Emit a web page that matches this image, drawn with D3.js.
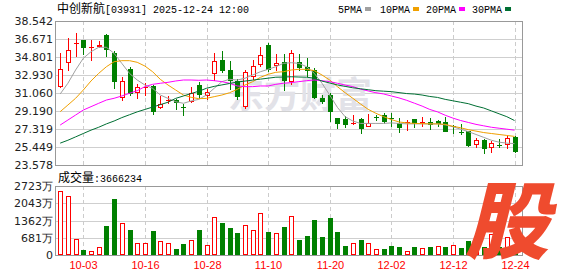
<!DOCTYPE html>
<html>
<head>
<meta charset="utf-8">
<script src="https://cdn.jsdelivr.net/npm/d3@7"></script>
<style>
    body { margin: 0; background: #fff; }
    svg { display: block; }
</style>
</head>
<body>
<div id="chart"></div>
<script>
var dates = ["09-29", "09-30", "10-02", "10-03", "10-06", "10-08", "10-09", "10-10", "10-13", "10-14",
    "10-15", "10-16", "10-17", "10-20", "10-21", "10-22", "10-23", "10-24", "10-27", "10-28",
    "10-30", "10-31", "11-03", "11-04", "11-05", "11-06", "11-07", "11-10", "11-11", "11-12",
    "11-13", "11-14", "11-17", "11-18", "11-19", "11-20", "11-21", "11-24", "11-25", "11-26",
    "11-27", "11-28", "12-01", "12-02", "12-03", "12-04", "12-05", "12-08", "12-09", "12-10",
    "12-11", "12-12", "12-15", "12-16", "12-17", "12-18", "12-19", "12-22", "12-23", "12-24"];

var open = [31.76, 34.25, 36.1, 36.57, 35.78, 35.9, 37.12, 35.2, 30.6, 33.55,
    31.16, 31.6, 31.8, 29.57, 30.3, 30.35, 29.62, 30.2, 31.88, 30.9,
    33.14, 34.45, 33.42, 32.3, 29.75, 32.8, 34.07, 36.08, 33.94, 34.25,
    32.3, 34.25, 33.76, 33.45, 30.55, 30.82, 28.45, 28.4, 27.9, 28.4,
    27.63, 28.56, 28.77, 28.45, 27.97, 27.95, 28.36, 27.93, 28.0, 28.1,
    28.0, 27.65, 27.0, 27.1, 25.73, 26.18, 25.48, 25.7, 25.76, 26.45];
var high = [35.2, 36.8, 37.3, 36.6, 36.6, 36.5, 37.15, 35.4, 32.7, 33.76,
    31.95, 32.1, 31.9, 30.7, 30.75, 30.45, 29.9, 31.65, 32.25, 31.5,
    35.2, 35.4, 34.4, 32.5, 33.45, 34.45, 35.85, 36.25, 35.14, 35.1,
    35.55, 35.1, 34.7, 33.65, 30.9, 31.06, 28.5, 28.7, 28.75, 28.5,
    28.85, 28.75, 28.95, 28.95, 28.45, 28.25, 28.4, 28.55, 28.45, 28.3,
    28.55, 27.7, 27.8, 27.15, 26.42, 26.25, 26.07, 26.3, 26.6, 26.6];
var low = [31.7, 33.4, 34.9, 35.1, 34.5, 35.85, 34.87, 31.6, 30.35, 30.88,
    30.55, 30.9, 28.9, 29.5, 30.05, 29.35, 28.75, 30.15, 30.5, 30.45,
    32.45, 33.2, 31.5, 30.4, 29.45, 32.5, 33.83, 33.3, 33.5, 31.4,
    31.95, 33.48, 32.8, 30.55, 30.0, 28.2, 27.45, 27.55, 27.85, 26.95,
    27.6, 28.25, 27.9, 27.65, 27.05, 27.2, 27.5, 27.63, 27.35, 27.6,
    27.1, 26.9, 26.8, 25.6, 25.48, 24.86, 24.9, 25.4, 25.38, 24.95];
var close = [33.55, 35.5, 36.25, 35.8, 35.85, 36.08, 35.67, 32.35, 32.27, 31.06,
    31.65, 31.7, 29.15, 29.9, 30.35, 30.1, 29.57, 31.05, 31.0, 31.15,
    34.35, 33.48, 32.45, 30.8, 33.2, 33.85, 35.05, 33.58, 34.18, 32.45,
    35.2, 33.73, 33.42, 30.6, 30.2, 29.22, 27.95, 27.82, 27.97, 27.45,
    27.97, 28.52, 28.2, 28.4, 27.5, 28.0, 27.97, 28.0, 27.8, 27.9,
    27.15, 27.6, 26.95, 25.65, 26.18, 25.32, 25.83, 25.65, 26.35, 25.0];

// volume in 万 shares, last one is 3666234
var volume = [2537, 2340, 634, 198, 159, 317, 1150, 2220, 1255, 990,
    476, 476, 950, 542, 460, 238, 436, 580, 990, 396,
    1490, 1270, 1070, 870, 1180, 980, 1650, 900, 860, 1110,
    1530, 590, 750, 1390, 710, 1470, 910, 360, 460, 590,
    460, 220, 240, 360, 320, 145, 320, 260, 320, 340,
    320, 400, 280, 550, 400, 320, 820, 300, 700, 366.6234];
var volUp = [1, 1, 1, 0, 1, 1, 0, 0, 1, 0,
    1, 1, 0, 1, 1, 0, 0, 1, 0, 1,
    1, 0, 0, 0, 1, 1, 1, 0, 1, 0,
    1, 0, 0, 0, 0, 0, 0, 0, 1, 0,
    1, 1, 0, 0, 0, 1, 0, 1, 0, 1,
    0, 1, 0, 0, 1, 0, 1, 0, 1, 0];

var ma5 = [30.96, 32.07, 33.45, 34.67, 35.35, 35.81, 35.81, 35.18, 34.14, 33.1,
    32.41, 31.89, 31.55, 30.85, 30.5, 30.16, 29.99, 30.23, 30.4, 30.85,
    31.55, 32.24, 32.48, 32.41, 32.59, 32.93, 33.27, 33.52, 33.79, 34.14,
    34.21, 34.14, 33.79, 33.1, 32.07, 30.85, 29.57, 28.6, 28.15, 27.9,
    27.9, 27.9, 27.9, 27.95, 27.9, 27.85, 27.85, 27.85, 27.85, 27.85,
    27.75, 27.55, 27.3, 27.05, 26.75, 26.45, 26.15, 25.95, 25.85, 25.8];
var ma10 = [29.12, 29.81, 30.51, 31.37, 32.31, 33.1, 33.79, 34.31, 34.42, 34.42,
    34.25, 33.86, 33.27, 32.48, 31.89, 31.37, 30.85, 30.61, 30.47, 30.5,
    30.68, 30.85, 31.09, 31.44, 31.89, 32.24, 32.69, 33.0, 33.21, 33.27,
    33.45, 33.52, 33.52, 33.38, 32.93, 32.41, 31.72, 31.09, 30.51, 29.92,
    29.36, 28.95, 28.6, 28.3, 28.05, 27.95, 27.9, 27.88, 27.85, 27.85,
    27.8, 27.6, 27.45, 27.25, 27.1, 26.95, 26.85, 26.75, 26.65, 26.55];
var ma20 = [27.73, 28.25, 28.77, 29.29, 29.64, 29.99, 30.33, 30.51, 30.75, 31.03,
    31.3, 31.72, 31.96, 32.07, 32.17, 32.31, 32.41, 32.41, 32.38, 32.41,
    32.34, 32.24, 32.07, 31.79, 31.72, 31.72, 31.79, 31.79, 31.96, 32.07,
    32.14, 32.24, 32.34, 32.41, 32.34, 32.24, 32.07, 31.89, 31.72, 31.47,
    31.27, 31.09, 30.96, 30.75, 30.55, 30.3, 30.0, 29.7, 29.35, 29.1,
    28.75, 28.45, 28.2, 28.0, 27.8, 27.65, 27.5, 27.4, 27.3, 27.2];
var ma30 = [25.85, 26.15, 26.5, 26.85, 27.2, 27.5, 27.85, 28.15, 28.5, 28.8,
    29.1, 29.35, 29.6, 29.85, 30.1, 30.5, 30.75, 31.0, 31.25, 31.55,
    31.75, 31.9, 32.05, 32.2, 32.3, 32.4, 32.5, 32.6, 32.7, 32.72,
    32.75, 32.72, 32.7, 32.6, 32.3, 32.1, 31.9, 31.75, 31.6, 31.5,
    31.4, 31.3, 31.25, 31.2, 31.1, 31.0, 30.95, 30.85, 30.7, 30.6,
    30.4, 30.25, 30.1, 29.95, 29.7, 29.5, 29.2, 28.9, 28.6, 28.2];

var priceTicks = [23.578, 25.449, 27.319, 29.190, 31.060, 32.930, 34.801, 36.671, 38.542];
var priceLabels = ["23.578", "25.449", "27.319", "29.190", "31.060", "32.930", "34.801", "36.671", "38.542"];
var volTicks = [0, 681, 1362, 2043, 2723];
var volLabels = ["0", "681万", "1362万", "2043万", "2723万"];
var dateTicks = ["10-03", "10-16", "10-28", "11-10", "11-20", "12-02", "12-12", "12-24"];

var maNames = ["5PMA", "10PMA", "20PMA", "30PMA"];
var maColors = ["#a0a0a0", "#f0a000", "#ff00ff", "#006f33"];
var maSeries = [ma5, ma10, ma20, ma30];

var w = 578, h = 276;
var left = 55.5, right = 522.5;
var red = "#ff0000", green = "#008000";
var numFont = "DejaVu Sans, sans-serif";
var monoFont = "Liberation Mono, monospace";
var cjkFont = "Noto Sans CJK SC, sans-serif";

var svg = d3.select("#chart")
    .append("svg")
    .attr("width", w)
    .attr("height", h);

var x = d3.scalePoint().domain(dates).range([60.2, 514.5]);
var y = d3.scaleLinear().domain([23.578, 38.542]).range([165, 21]);
var yv = d3.scaleLinear().domain([0, 2723]).range([255, 186.3]);

function px(d) { return Math.round(x(d)); }
function crisp(v) { return Math.round(v) + 0.5; }

// grid
var grid = svg.append("g").attr("shape-rendering", "crispEdges");
grid.selectAll(".hgrid")
    .data(priceTicks.slice(1, -1))
    .enter().append("line")
    .attr("x1", left).attr("x2", right)
    .attr("y1", function (d) { return crisp(y(d)); })
    .attr("y2", function (d) { return crisp(y(d)); })
    .attr("stroke", "#cfcfcf");
grid.selectAll(".vgrid")
    .data(volTicks.slice(1, -1))
    .enter().append("line")
    .attr("x1", left).attr("x2", right)
    .attr("y1", function (d) { return crisp(yv(d)); })
    .attr("y2", function (d) { return crisp(yv(d)); })
    .attr("stroke", "#cfcfcf");
dateTicks.forEach(function (d) {
    [[21, 165], [186, 255]].forEach(function (r) {
        grid.append("line")
            .attr("x1", px(d) + 0.5).attr("x2", px(d) + 0.5)
            .attr("y1", r[0]).attr("y2", r[1])
            .attr("stroke", "#cccccc")
            .attr("stroke-dasharray", "4,3");
    });
});

// watermark
svg.append("text")
    .attr("x", 228).attr("y", 108)
    .attr("font-family", cjkFont)
    .attr("font-size", 36)
    .attr("font-weight", "bold")
    .attr("fill", "#e2e2e8")
    .text("东方财富");

// panel borders
var frame = svg.append("g").attr("shape-rendering", "crispEdges")
    .attr("fill", "none").attr("stroke", "#999");
frame.append("rect").attr("x", left).attr("y", 21.5).attr("width", right - left).attr("height", 144);
frame.append("rect").attr("x", left).attr("y", 186.5).attr("width", right - left).attr("height", 69);

// candles
var candles = svg.append("g").attr("shape-rendering", "crispEdges");
dates.forEach(function (d, i) {
    var up = close[i] >= open[i];
    var c = up ? red : green;
    var r = px(d);
    var top = y(Math.max(open[i], close[i])), bot = y(Math.min(open[i], close[i]));
    candles.append("line")
        .attr("x1", r + 0.5).attr("x2", r + 0.5)
        .attr("y1", Math.round(y(high[i]))).attr("y2", Math.round(y(low[i])) + 1)
        .attr("stroke", c);
    if (bot - top < 1.5) {
        candles.append("line")
            .attr("x1", r - 2).attr("x2", r + 3)
            .attr("y1", crisp(top)).attr("y2", crisp(top))
            .attr("stroke", c);
    } else {
        candles.append("rect")
            .attr("x", r - 1.5).attr("y", crisp(top))
            .attr("width", 4).attr("height", Math.round(bot) - Math.round(top))
            .attr("fill", up ? "#fff" : c)
            .attr("stroke", c);
    }
});

// volume bars
svg.append("g").attr("shape-rendering", "crispEdges")
    .selectAll(".bar")
    .data(volume)
    .enter().append("rect")
    .attr("class", "bar")
    .attr("x", function (v, i) { return px(dates[i]) - 1.5; })
    .attr("y", function (v) { return crisp(yv(v)); })
    .attr("width", 4)
    .attr("height", function (v) { return Math.max(0, 254.5 - crisp(yv(v))); })
    .attr("fill", function (v, i) { return volUp[i] ? "#fff" : green; })
    .attr("stroke", function (v, i) { return volUp[i] ? red : green; });

// moving averages
var line = d3.line()
    .x(function (v, i) { return x(dates[i]); })
    .y(function (v) { return y(v); });
maSeries.forEach(function (s, k) {
    svg.append("path")
        .datum(s)
        .attr("d", line)
        .attr("fill", "none")
        .attr("stroke", maColors[k])
        .attr("stroke-width", 1);
});

// axis labels
svg.selectAll(".plabel")
    .data(priceTicks)
    .enter().append("text")
    .attr("x", 53).attr("y", function (d) { return y(d) + 4; })
    .attr("text-anchor", "end")
    .attr("font-family", numFont).attr("font-size", 11)
    .attr("fill", "#222")
    .text(function (d, i) { return priceLabels[i]; });
svg.selectAll(".vlabel")
    .data(volTicks)
    .enter().append("text")
    .attr("x", 53).attr("y", function (d) { return yv(d) + 4; })
    .attr("text-anchor", "end")
    .attr("font-family", numFont).attr("font-size", 11)
    .attr("fill", "#222")
    .text(function (d, i) { return volLabels[i]; });
svg.selectAll(".dlabel")
    .data(dateTicks)
    .enter().append("text")
    .attr("x", function (d) { return px(d) + 0.5; }).attr("y", 269)
    .attr("text-anchor", "middle")
    .attr("font-family", "Liberation Sans, sans-serif").attr("font-size", 11)
    .attr("fill", red)
    .text(function (d) { return d; });

// title
var title = svg.append("text").attr("x", 57).attr("y", 13).attr("fill", "#000");
title.append("tspan").attr("font-family", cjkFont).attr("font-size", 12).text("中创新航");
title.append("tspan").attr("font-family", monoFont).attr("font-size", 10).text("[03931] 2025-12-24 12:00");

var vt = svg.append("text").attr("x", 58).attr("y", 182).attr("fill", "#000");
vt.append("tspan").attr("font-family", cjkFont).attr("font-size", 12).text("成交量");
vt.append("tspan").attr("font-family", monoFont).attr("font-size", 10)
    .text(":" + Math.round(volume[volume.length - 1] * 10000));

// legend
var legendX = [338, 380, 426, 472];
maNames.forEach(function (n, k) {
    var t = svg.append("text")
        .attr("x", legendX[k]).attr("y", 13)
        .attr("font-family", monoFont).attr("font-size", 10)
        .attr("fill", "#000")
        .text(n);
    var tw = t.node().getComputedTextLength();
    svg.append("rect")
        .attr("x", legendX[k] + tw + 3).attr("y", 7)
        .attr("width", 6).attr("height", 4)
        .attr("fill", maColors[k]);
});

// brand mark
svg.append("text")
    .attr("transform", "translate(465,252) skewX(-14)")
    .attr("font-family", cjkFont)
    .attr("font-size", 84)
    .attr("font-weight", 900)
    .attr("fill", "#ef4b2e")
    .text("股");
</script>
</body>
</html>
